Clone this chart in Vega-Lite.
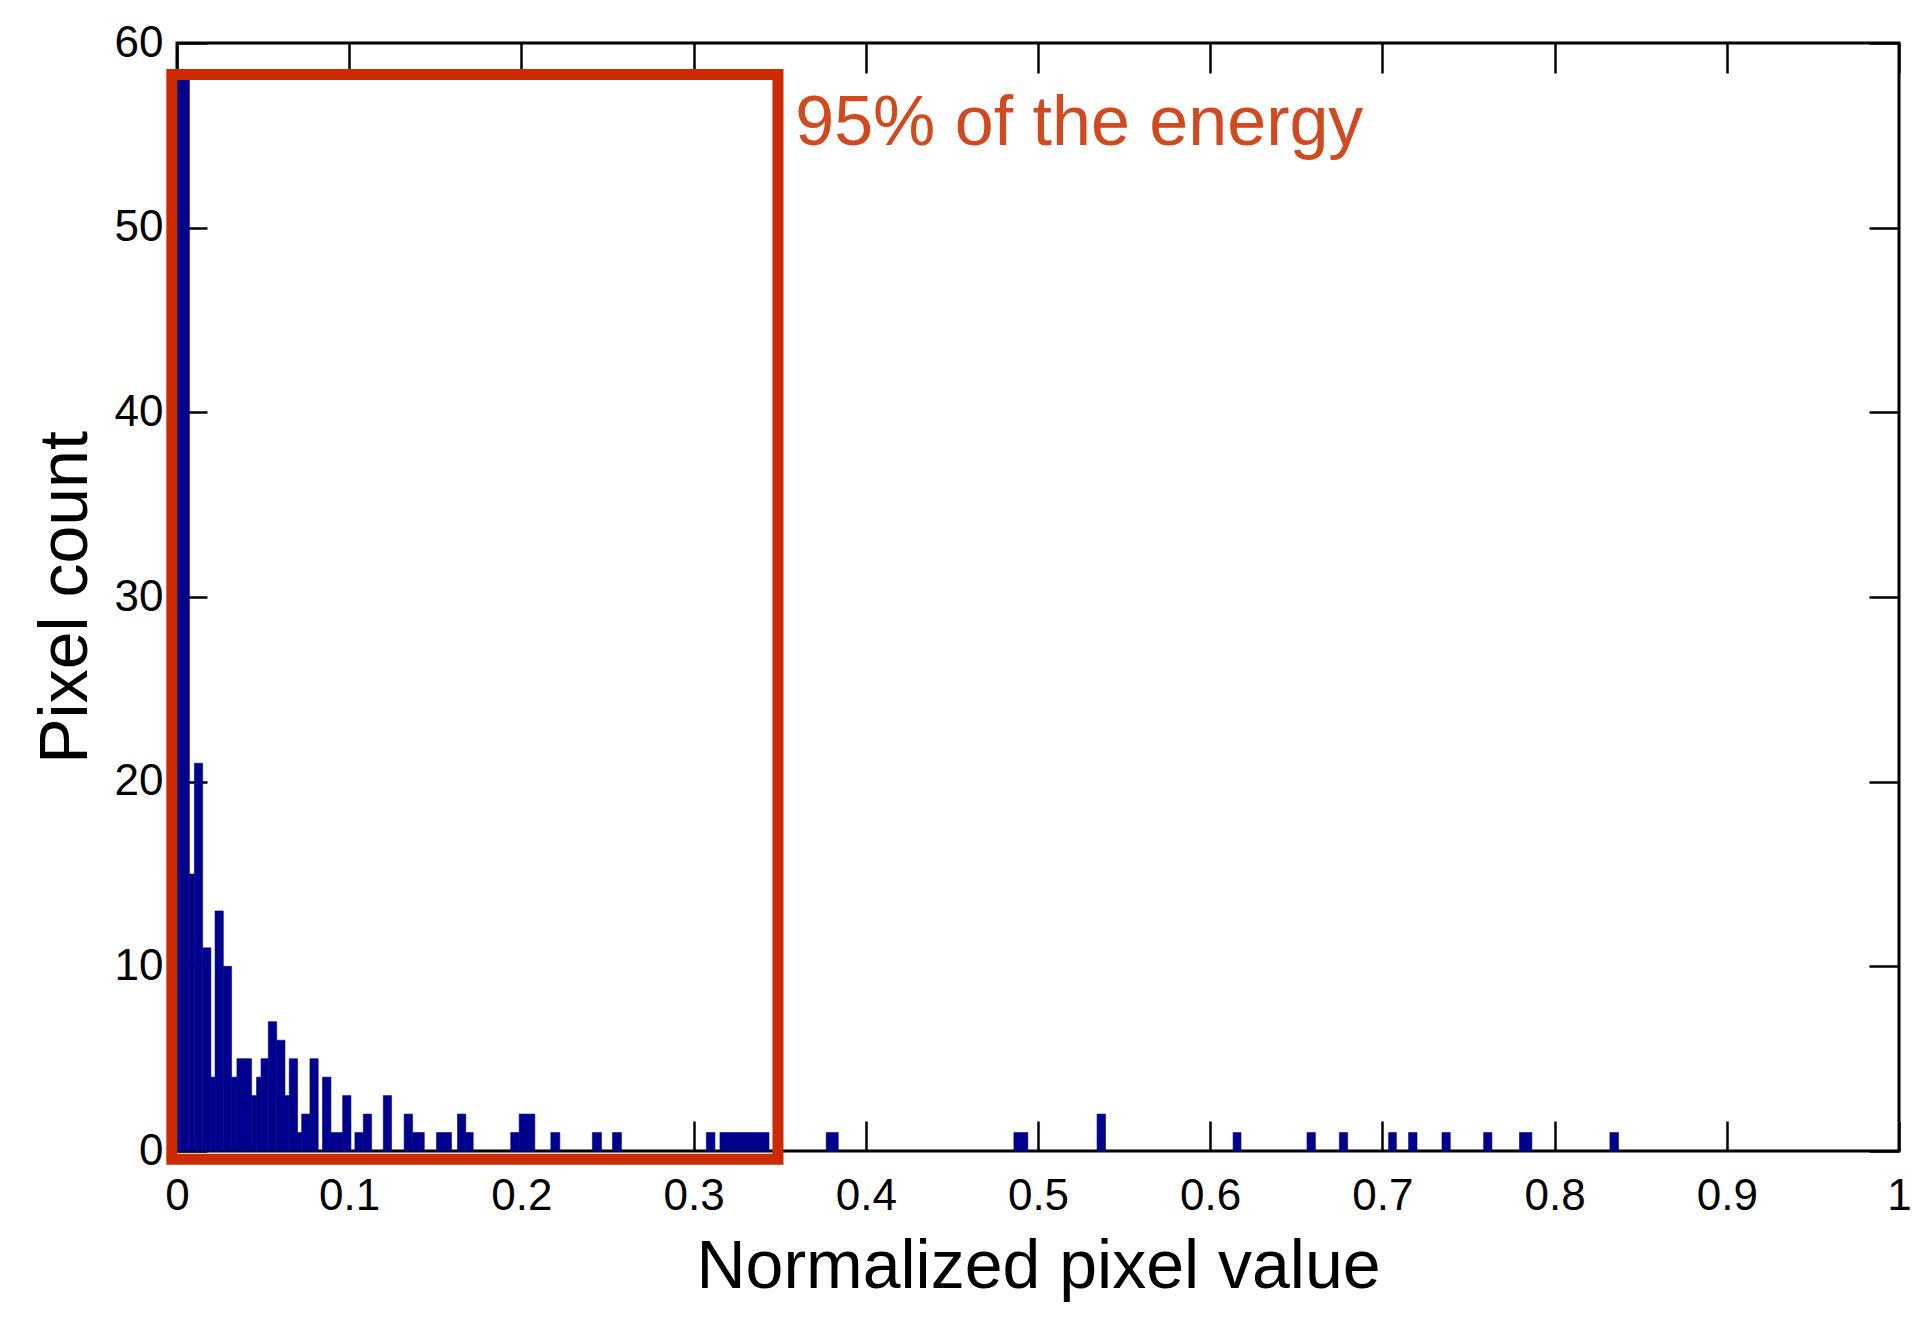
{
  "$schema": "https://vega.github.io/schema/vega-lite/v6.json",
  "description": "Histogram of normalized pixel values with the region holding 95% of the energy boxed",
  "width": 1722,
  "height": 1108,
  "autosize": {"type": "none"},
  "padding": {"left": 177, "top": 43, "right": 33, "bottom": 177},
  "background": "white",
  "config": {
    "view": {"stroke": "black", "strokeWidth": 3},
    "font": "Liberation Sans",
    "axis": {
      "domain": false,
      "grid": false,
      "tickColor": "black",
      "tickWidth": 2.5,
      "tickSize": -30,
      "labelFont": "Liberation Sans",
      "labelFontSize": 44,
      "labelColor": "black",
      "labelFlush": false,
      "labelOverlap": false,
      "titleFont": "Liberation Sans",
      "titleFontSize": 68,
      "titleFontWeight": "normal",
      "titleColor": "black"
    }
  },
  "datasets": {
    "bins": [
      {"x0": 0.0, "x1": 0.0072, "count": 58},
      {"x0": 0.0072, "x1": 0.0101, "count": 15},
      {"x0": 0.0101, "x1": 0.0149, "count": 21},
      {"x0": 0.0149, "x1": 0.0197, "count": 11},
      {"x0": 0.0197, "x1": 0.0221, "count": 4},
      {"x0": 0.0221, "x1": 0.0269, "count": 13},
      {"x0": 0.0269, "x1": 0.0317, "count": 10},
      {"x0": 0.0317, "x1": 0.0348, "count": 4},
      {"x0": 0.0348, "x1": 0.0433, "count": 5},
      {"x0": 0.0433, "x1": 0.0462, "count": 3},
      {"x0": 0.0462, "x1": 0.0488, "count": 4},
      {"x0": 0.0488, "x1": 0.0530, "count": 5},
      {"x0": 0.0530, "x1": 0.0579, "count": 7},
      {"x0": 0.0579, "x1": 0.0627, "count": 6},
      {"x0": 0.0627, "x1": 0.0652, "count": 3},
      {"x0": 0.0652, "x1": 0.0700, "count": 5},
      {"x0": 0.0700, "x1": 0.0724, "count": 1},
      {"x0": 0.0724, "x1": 0.0772, "count": 2},
      {"x0": 0.0772, "x1": 0.0820, "count": 5},
      {"x0": 0.0845, "x1": 0.0894, "count": 4},
      {"x0": 0.0894, "x1": 0.0962, "count": 1},
      {"x0": 0.0962, "x1": 0.1010, "count": 3},
      {"x0": 0.1033, "x1": 0.1082, "count": 1},
      {"x0": 0.1082, "x1": 0.1130, "count": 2},
      {"x0": 0.1198, "x1": 0.1246, "count": 3},
      {"x0": 0.1319, "x1": 0.1368, "count": 2},
      {"x0": 0.1368, "x1": 0.1436, "count": 1},
      {"x0": 0.1507, "x1": 0.1594, "count": 1},
      {"x0": 0.1629, "x1": 0.1677, "count": 2},
      {"x0": 0.1677, "x1": 0.1720, "count": 1},
      {"x0": 0.1938, "x1": 0.1987, "count": 1},
      {"x0": 0.1987, "x1": 0.2078, "count": 2},
      {"x0": 0.2171, "x1": 0.2223, "count": 1},
      {"x0": 0.2412, "x1": 0.2465, "count": 1},
      {"x0": 0.2529, "x1": 0.2581, "count": 1},
      {"x0": 0.3074, "x1": 0.3124, "count": 1},
      {"x0": 0.3153, "x1": 0.3438, "count": 1},
      {"x0": 0.3770, "x1": 0.3840, "count": 1},
      {"x0": 0.4860, "x1": 0.4941, "count": 1},
      {"x0": 0.5343, "x1": 0.5392, "count": 2},
      {"x0": 0.6133, "x1": 0.6179, "count": 1},
      {"x0": 0.6562, "x1": 0.6611, "count": 1},
      {"x0": 0.6750, "x1": 0.6798, "count": 1},
      {"x0": 0.7036, "x1": 0.7081, "count": 1},
      {"x0": 0.7152, "x1": 0.7201, "count": 1},
      {"x0": 0.7346, "x1": 0.7394, "count": 1},
      {"x0": 0.7588, "x1": 0.7636, "count": 1},
      {"x0": 0.7796, "x1": 0.7868, "count": 1},
      {"x0": 0.8321, "x1": 0.8371, "count": 1}
    ],
    "box": [
      {"left": -0.003, "right": 0.349, "bottom": -0.45, "top": 58.3}
    ],
    "note": [
      {"x": 0.359, "y": 54.5, "label": "95% of the energy"}
    ]
  },
  "layer": [
    {
      "data": {"name": "bins"},
      "mark": {"type": "rect", "color": "#00008c", "stroke": "#00008c", "strokeWidth": 0.6},
      "encoding": {
        "x": {
          "field": "x0",
          "type": "quantitative",
          "scale": {"domain": [0, 1], "nice": false, "zero": false},
          "axis": {
            "orient": "bottom",
            "values": [0, 0.1, 0.2, 0.3, 0.4, 0.5, 0.6, 0.7, 0.8, 0.9, 1],
            "format": "~g",
            "labelPadding": 53,
            "title": "Normalized pixel value",
            "titlePadding": 15
          }
        },
        "x2": {"field": "x1"},
        "y": {
          "field": "count",
          "type": "quantitative",
          "scale": {"domain": [0, 60], "nice": false},
          "axis": {
            "orient": "left",
            "values": [0, 10, 20, 30, 40, 50, 60],
            "labelPadding": 44,
            "title": "Pixel count",
            "titlePadding": 14
          }
        },
        "y2": {"datum": 0}
      }
    },
    {
      "data": {"name": "box"},
      "mark": {"type": "rect", "filled": false, "stroke": "#cc2a00", "strokeWidth": 11},
      "encoding": {
        "x": {
          "field": "left",
          "type": "quantitative",
          "axis": {"orient": "top", "values": [0, 0.1, 0.2, 0.3, 0.4, 0.5, 0.6, 0.7, 0.8, 0.9, 1], "labels": false, "title": null}
        },
        "x2": {"field": "right"},
        "y": {
          "field": "bottom",
          "type": "quantitative",
          "axis": {"orient": "right", "values": [0, 10, 20, 30, 40, 50, 60], "labels": false, "title": null}
        },
        "y2": {"field": "top"}
      }
    },
    {
      "data": {"name": "note"},
      "mark": {"type": "text", "align": "left", "baseline": "alphabetic", "fontSize": 70, "font": "Liberation Sans", "color": "#d04a20"},
      "encoding": {
        "x": {"field": "x", "type": "quantitative", "axis": null},
        "y": {"field": "y", "type": "quantitative", "axis": null},
        "text": {"field": "label"}
      }
    }
  ],
  "resolve": {"axis": {"x": "independent", "y": "independent"}}
}
